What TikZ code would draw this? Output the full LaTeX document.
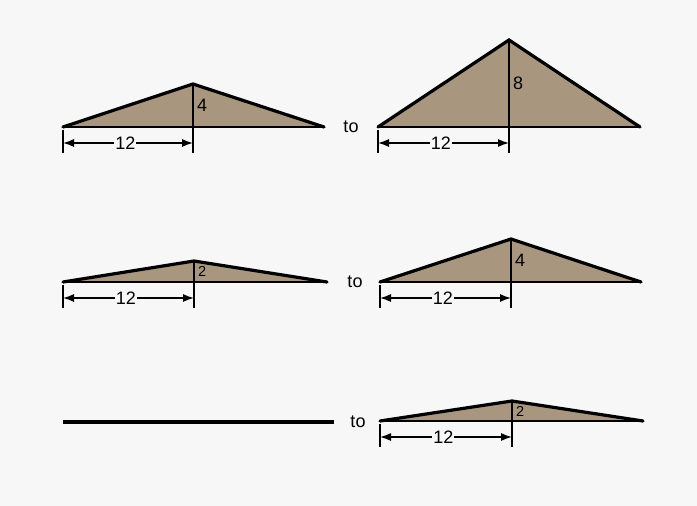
\documentclass[tikz,border=0pt]{standalone}
\usepackage{fontspec}
\setmainfont{Liberation Sans}
\usetikzlibrary{arrows.meta,calc}

\definecolor{roofbrown}{RGB}{168,151,126}
\definecolor{paper}{RGB}{247,247,247}

\tikzset{
  roof/.style={fill=roofbrown, draw=none},
  slope/.style={line width=3.2pt, line join=miter, line cap=round},
  thin/.style={line width=1.6pt},
  dimline/.style={line width=1.4pt, {Latex[length=11pt,width=8pt]}-{Latex[length=11pt,width=8pt]}},
  lbl/.style={font=\fontsize{18}{21}\selectfont, inner sep=1pt},
  small/.style={font=\fontsize{14.5}{17}\selectfont, inner sep=1pt},
}

\begin{document}
\begin{tikzpicture}[x=1pt,y=-1pt]
\fill[paper] (0,0) rectangle (697,506);
\useasboundingbox (0,0) rectangle (697,506);

% left x / base y / apex x / apex y / right x / rise / font style
\foreach \nm/\lx/\by/\ax/\ay/\rx/\rise/\st in
    {a/63/127/193/84/324/4/lbl,
     b/378/127/509/40/640/8/lbl,
     c/63/282/194/261/327/2/small,
     d/380/282/511/239/641/4/lbl,
     e/380/421/512/401/643/2/small}
{
  \coordinate (\nm l) at (\lx,\by);
  \coordinate (\nm t) at (\ax,\ay);
  \coordinate (\nm r) at (\rx,\by);
  \coordinate (\nm m) at (\ax,\by);
  \fill[roof] (\nm l) -- (\nm t) -- (\nm r) -- cycle;
  \draw[thin] (\nm l) -- (\nm r);
  \draw[thin] (\nm t) -- (\nm m);
  \draw[slope] (\nm l) -- (\nm t) -- (\nm r);
  \node[\st, anchor=west, xshift=3pt] (\nm h) at ($(\nm t)!.5!(\nm m)$) {\rise};
  % dimension
  \draw[thin] (\lx,\by+3) -- (\lx,\by+26);
  \draw[thin] (\ax,\by) -- (\ax,\by+26);
  \draw[dimline] (\lx,\by+16) coordinate (\nm d1) -- (\ax,\by+16) coordinate (\nm d2);
  \node[lbl, fill=paper, inner sep=1pt] (\nm w) at ($(\nm d1)!.48!(\nm d2)$) {12};
}

% flat roof
\coordinate (fl) at (63,422);
\coordinate (fr) at (334,422);
\draw[line width=3.6pt] (fl) -- (fr);

% the word "to"
\node[lbl] (to1) at (351,127) {to};
\node[lbl] (to2) at (355,282) {to};
\node[lbl] (to3) at (358,422) {to};
\end{tikzpicture}
\end{document}
